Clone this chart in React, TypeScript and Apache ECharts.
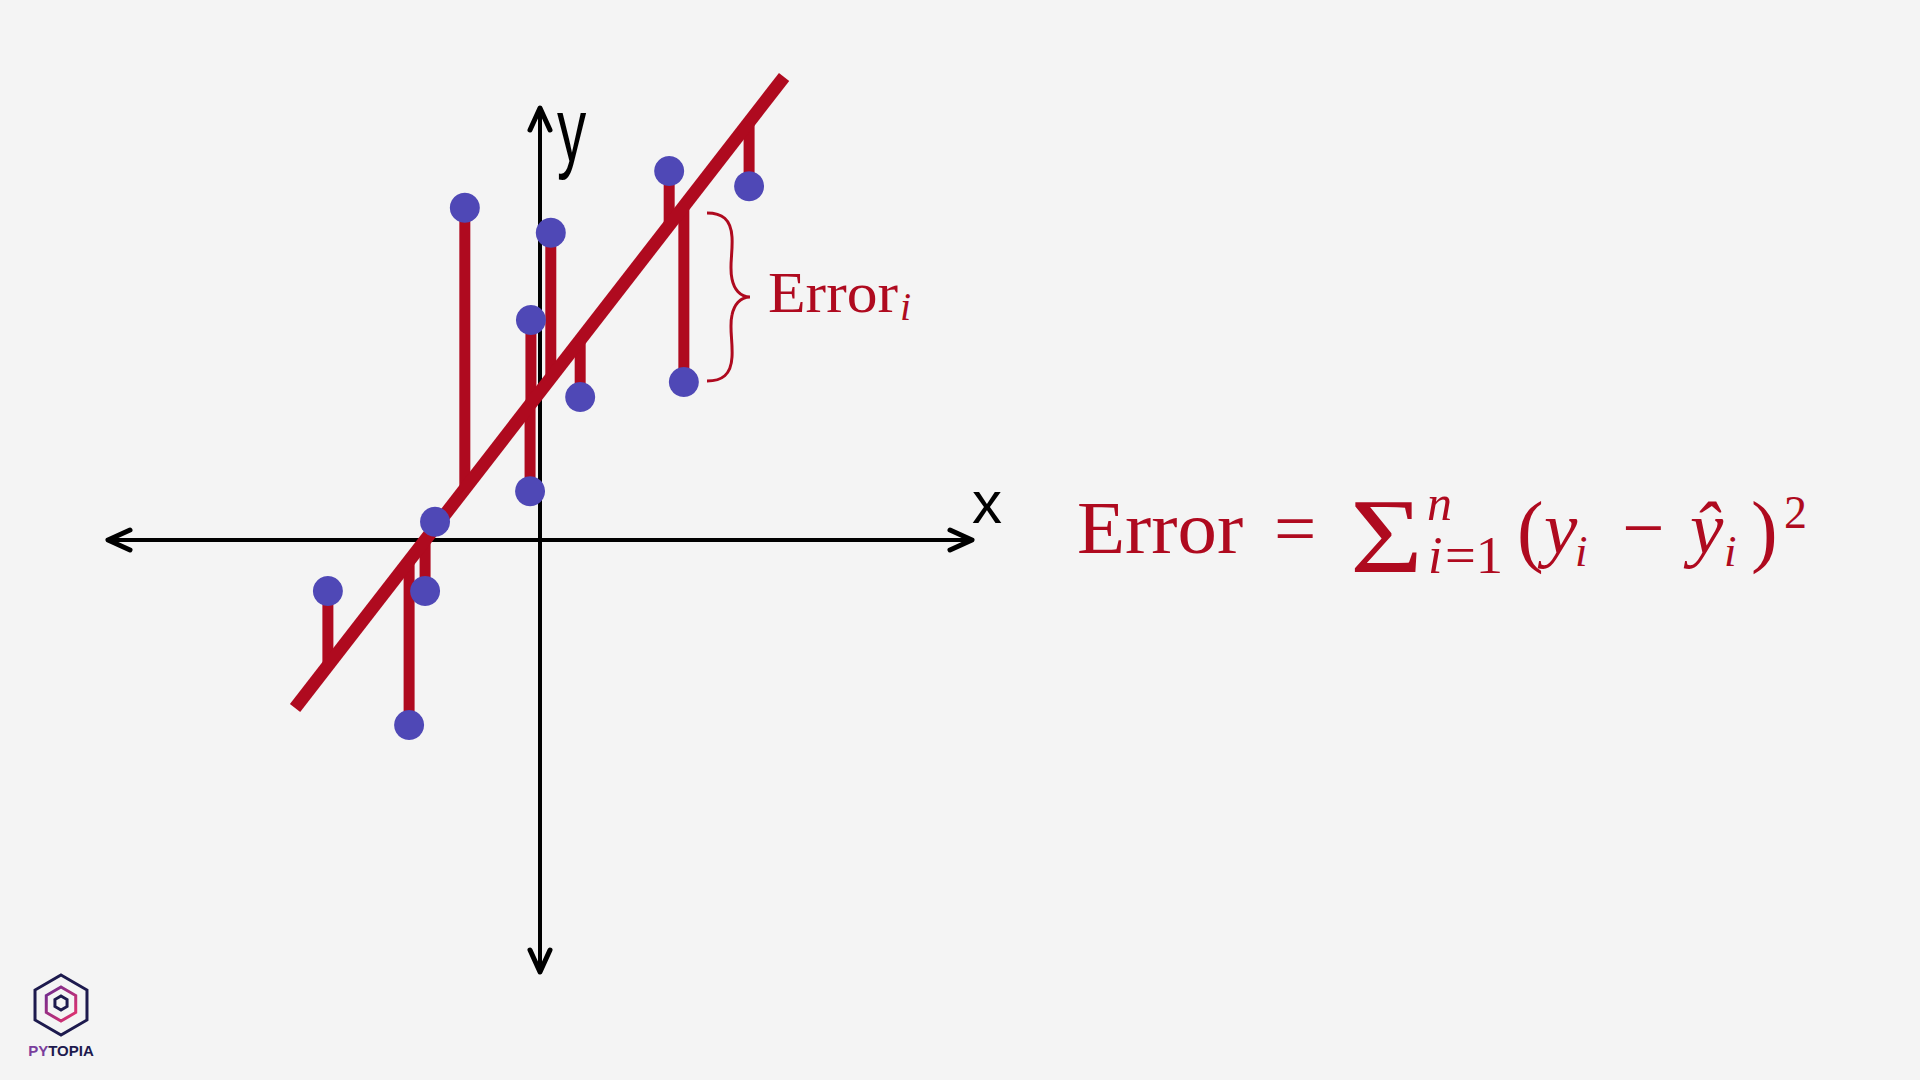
import React, { useEffect, useRef } from "react";
import * as echarts from "echarts";

// ---- data ----
const AXIS_EXTENT = 10;
const X_VALUES = [-4.91, -3.03, -2.66, -2.43, -1.74, -0.23, -0.21, 0.25, 0.93, 2.99, 3.33, 4.84];
const Y_VALUES = [-1.18, -4.28, -1.18, 0.42, 7.69, 1.13, 5.09, 7.11, 3.31, 8.54, 3.66, 8.19];
const FITTED_VALUES = [-2.91, -0.49, -0.01, 0.29, 1.18, 3.12, 3.15, 3.74, 4.62, 7.28, 7.72, 9.66];
const REGRESSION_X = [-5.67, 5.65];
const REGRESSION_Y = [-3.89, 10.72];

// ---- styles ----
const RED = "#AF0A1F";
const BLUE = "#4F48B6";
const BG = "#F4F4F4";
const SERIF = "'Liberation Serif', 'Times New Roman', serif";
const SANS = "'Liberation Sans', Arial, sans-serif";
const NAVY = "#1D1A4E";
const PURPLE = "#7A3E9D";

const BRACE_D =
  "M0,0 C15,0 24,6 25,24 C26,40 22,54 25,66 C27,76 33,84 43,84 C33,84 27,92 25,102 C22,114 26,128 25,144 C24,162 15,168 0,168";
echarts.graphic.registerShape("brace", (echarts.graphic as any).extendPath(BRACE_D, {}));

function txt(text: string, x: number, base: number, size: number, o: any = {}) {
  return {
    type: "text",
    x,
    y: base - 0.34 * size,
    z: 100,
    scaleX: o.scaleX ?? 1,
    originX: 0,
    style: {
      text,
      fontSize: size,
      fontFamily: o.family || SERIF,
      fontStyle: o.italic ? "italic" : "normal",
      fontWeight: o.weight || "normal",
      fill: o.color || RED,
      align: o.align || "left",
      textAlign: o.align || "left",
      verticalAlign: "middle",
      textVerticalAlign: "middle",
    },
  };
}

function hexPoints(cx: number, cy: number, r: number) {
  const pts: number[][] = [];
  for (let k = 0; k < 6; k++) {
    const a = (Math.PI / 3) * k - Math.PI / 2;
    pts.push([cx + r * Math.cos(a), cy + r * Math.sin(a)]);
  }
  return pts;
}

export default function App() {
  const ref = useRef<HTMLDivElement>(null);
  useEffect(() => {
    if (!ref.current) return;
    const chart = echarts.init(ref.current, null, { renderer: "svg" });
    const points = X_VALUES.map((x, i) => [x, Y_VALUES[i]]);
    const errors = X_VALUES.map((x, i) => [x, Y_VALUES[i], FITTED_VALUES[i]]);
    const regression = REGRESSION_X.map((x, i) => [x, REGRESSION_Y[i]]);

    const axisStyle = { stroke: "#000", lineWidth: 4, lineCap: "round", lineJoin: "round", fill: null };

    const option: any = {
      animation: false,
      backgroundColor: BG,
      grid: { left: 108, width: 864, top: 0, height: 1080 },
      xAxis: { type: "value", min: -AXIS_EXTENT, max: AXIS_EXTENT, show: false },
      yAxis: { type: "value", min: -12.5, max: 12.5, show: false },
      series: [
        {
          type: "custom",
          z: 1,
          clip: false,
          data: [[0, 0]],
          renderItem: (_p: any, api: any) => {
            const l = api.coord([-AXIS_EXTENT, 0]);
            const r = api.coord([AXIS_EXTENT, 0]);
            const t = api.coord([0, AXIS_EXTENT]);
            const b = api.coord([0, -AXIS_EXTENT]);
            const A = 22, W = 10;
            const head = { ...axisStyle, lineWidth: 5 };
            return {
              type: "group",
              children: [
                { type: "line", shape: { x1: l[0], y1: l[1], x2: r[0], y2: r[1] }, style: axisStyle },
                { type: "line", shape: { x1: t[0], y1: t[1], x2: b[0], y2: b[1] }, style: axisStyle },
                { type: "polyline", shape: { points: [[l[0] + A, l[1] - W], l, [l[0] + A, l[1] + W]] }, style: head },
                { type: "polyline", shape: { points: [[r[0] - A, r[1] - W], r, [r[0] - A, r[1] + W]] }, style: head },
                { type: "polyline", shape: { points: [[t[0] - W, t[1] + A], t, [t[0] + W, t[1] + A]] }, style: head },
                { type: "polyline", shape: { points: [[b[0] - W, b[1] - A], b, [b[0] + W, b[1] - A]] }, style: head },
              ],
            };
          },
        },
        {
          type: "custom",
          z: 2,
          clip: false,
          data: errors,
          encode: { x: 0, y: 1 },
          renderItem: (_p: any, api: any) => {
            const a = api.coord([api.value(0), api.value(1)]);
            const f = api.coord([api.value(0), api.value(2)]);
            return {
              type: "line",
              shape: { x1: a[0], y1: a[1], x2: f[0], y2: f[1] },
              style: { stroke: RED, lineWidth: 11, lineCap: "butt" },
            };
          },
        },
        {
          type: "line",
          z: 3,
          data: regression,
          symbol: "none",
          lineStyle: { color: RED, width: 13, cap: "butt" },
          silent: true,
        },
        {
          type: "scatter",
          z: 4,
          data: points,
          symbolSize: 30,
          itemStyle: { color: BLUE, opacity: 1 },
        },
      ],
      graphic: [
        // axis labels
        txt("x", 987, 523, 60, { family: SANS, color: "#000", align: "center" }),
        txt("y", 557, 160, 90, { family: SANS, color: "#000", scaleX: 0.65 }),
        // brace + Error_i
        { type: "brace", x: 707, y: 213, z: 100, style: { stroke: RED, lineWidth: 3, fill: null } },
        txt("Error", 768, 312, 56, { scaleX: 1.1 }),
        txt("i", 900, 320, 40, { italic: true }),
        // formula
        txt("Error", 1077, 553, 75, { scaleX: 1.05 }),
        txt("=", 1274, 553, 75),
        txt("Σ", 1350, 572, 106, { scaleX: 1.18 }),
        txt("n", 1427, 520, 50, { italic: true }),
        txt("i", 1428, 573, 52, { italic: true }),
        txt("=1", 1445, 573, 52, { scaleX: 1.05 }),
        txt("(", 1517, 557, 80),
        txt("y", 1544, 553, 75, { italic: true }),
        txt("i", 1575, 566, 45, { italic: true }),
        txt("−", 1622, 553, 75),
        txt("ŷ", 1690, 553, 75, { italic: true }),
        txt("i", 1724, 566, 45, { italic: true }),
        txt(")", 1751, 557, 80),
        txt("2", 1784, 528, 46),
        // logo
        {
          type: "polygon",
          z: 100,
          shape: { points: hexPoints(61, 1005, 30) },
          style: { stroke: NAVY, lineWidth: 3, fill: null },
        },
        {
          type: "polygon",
          z: 100,
          shape: { points: hexPoints(61, 1004, 17) },
          style: {
            stroke: new echarts.graphic.LinearGradient(0, 0, 1, 1, [
              { offset: 0, color: "#6A2C91" },
              { offset: 1, color: "#E8336D" },
            ]),
            lineWidth: 3,
            fill: null,
          },
        },
        {
          type: "polygon",
          z: 100,
          shape: { points: hexPoints(61, 1003, 7) },
          style: { stroke: NAVY, lineWidth: 3, fill: null },
        },
        {
          type: "text",
          x: 61,
          y: 1050,
          z: 100,
          style: {
            text: "{p|PY}{t|TOPIA}",
            align: "center",
            textAlign: "center",
            verticalAlign: "middle",
            textVerticalAlign: "middle",
            rich: {
              p: { fontSize: 15, fontWeight: "bold", fontFamily: SANS, fill: PURPLE, color: PURPLE },
              t: { fontSize: 15, fontWeight: "bold", fontFamily: SANS, fill: NAVY, color: NAVY },
            },
          },
        },
      ],
    };
    chart.setOption(option);
    return () => chart.dispose();
  }, []);
  return (
    <div
      ref={ref}
      style={{ position: "absolute", left: 0, top: 0, width: 1920, height: 1080, background: BG }}
    />
  );
}
